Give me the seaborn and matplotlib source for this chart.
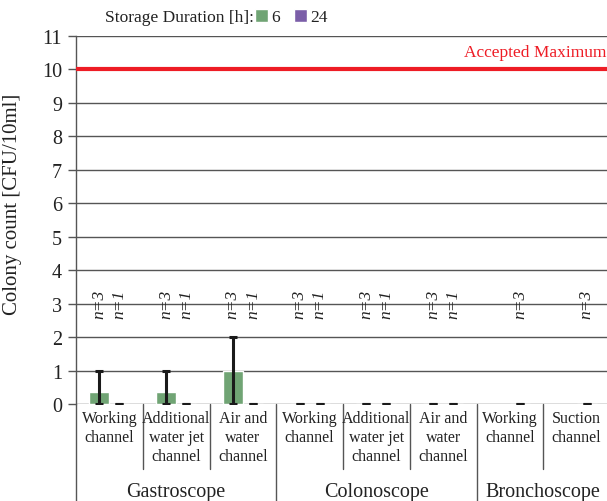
import numpy as np
import pandas as pd
import matplotlib
matplotlib.use("Agg")
import matplotlib.pyplot as plt
import seaborn as sns

# ── Data ──────────────────────────────────────────────────────────────────────
channels = [
    "Working\nchannel", "Additional\nwater jet\nchannel", "Air and\nwater\nchannel",
    "Working\nchannel", "Additional\nwater jet\nchannel", "Air and\nwater\nchannel",
    "Working\nchannel", "Suction\nchannel",
]
scopes = ["Gastroscope", "Colonoscope", "Bronchoscope"]
scope_sizes = [3, 3, 2]

durations = ["6", "24"]
mean_6h = [0.35, 0.35, 1.0, 0.0, 0.0, 0.0, np.nan, np.nan]
mean_24h = [0.0, 0.0, 0.0, 0.0, 0.0, 0.0, 0.0, 0.0]
err_lo_6h = [0.35, 0.35, 1.0, 0.0, 0.0, 0.0, np.nan, np.nan]
err_hi_6h = [0.65, 0.65, 1.0, 0.0, 0.0, 0.0, np.nan, np.nan]
n_6h = ["3", "3", "3", "3", "3", "3", None, None]
n_24h = ["1", "1", "1", "1", "1", "1", "3", "3"]

accepted_max = 10
colors = ["#70a474", "#7b5ea8"]

# ── Style ─────────────────────────────────────────────────────────────────────
sns.set_theme(style="white")
plt.rcParams["font.family"] = ["Liberation Serif", "DejaVu Serif"]
plt.rcParams["text.color"] = "#222222"

df = pd.DataFrame({
    "cat": list(range(8)) * 2,
    "value": mean_6h + mean_24h,
    "dur": [durations[0]] * 8 + [durations[1]] * 8,
})

fig = plt.figure(figsize=(6.07, 5.02), dpi=100)
W, H = 607, 502
ax = fig.add_axes([76 / W, (H - 405) / H, (610 - 76) / W, (405 - 37) / H])

sns.barplot(data=df, x="cat", y="value", hue="dur", hue_order=durations,
            palette=colors, width=0.6, errorbar=None, ax=ax, saturation=1,
            order=list(range(8)))

off = 0.15
x = np.arange(8)
# error bars
ax.errorbar(x - off, mean_6h, yerr=[err_lo_6h, err_hi_6h], fmt="none",
            ecolor="#1a1a1a", elinewidth=2.2, capsize=3, capthick=2.2, zorder=5)
ax.errorbar(x + off, mean_24h, yerr=np.zeros(8), fmt="none",
            ecolor="#1a1a1a", elinewidth=2.2, capsize=3, capthick=2.2, zorder=5)

# n labels
for i in range(8):
    if n_6h[i]:
        ax.text(i - off, 3, "n=" + n_6h[i], rotation=90, ha="center",
                va="center", fontsize=12.5, fontstyle="italic", zorder=6)
    if n_24h[i]:
        ax.text(i + off, 3, "n=" + n_24h[i], rotation=90, ha="center",
                va="center", fontsize=12.5, fontstyle="italic", zorder=6)

# accepted maximum
ax.axhline(accepted_max, color="#ee1c25", lw=3, zorder=4)
fig.text(606 / W, (H - 53) / H, "Accepted Maximum", color="#ee1c25",
         ha="right", va="center", fontsize=12.5)

ax.set_xlim(-0.5, 7.5)
ax.set_ylim(0, 11)
ax.set_yticks(range(0, 12))
ax.yaxis.grid(True, color="#555555", lw=1)
ax.set_axisbelow(True)
ax.tick_params(axis="y", left=True, length=6, width=1, color="#555555",
               labelsize=14.5, pad=4, labelcolor="#222222")
ax.set_xticks([])
ax.set_xlabel("")
ax.set_ylabel("Colony count [CFU/10ml]", fontsize=15, color="#222222")
ax.yaxis.set_label_coords(-0.101, 0.546)
for s in ["top", "right", "bottom"]:
    ax.spines[s].set_visible(False)
ax.spines["left"].set_color("#555555")
ax.spines["left"].set_linewidth(1)

# category labels and separators below the axis
trans = ax.get_xaxis_transform()
for i, lab in enumerate(channels):
    ax.text(i, -0.017, lab, transform=trans, ha="center", va="top",
            fontsize=11.5, linespacing=1.22, clip_on=False)
ax.plot([-0.5, -0.5], [0, -(502 - 405) / 368], transform=trans,
        color="#555555", lw=1, clip_on=False)
bounds = np.cumsum(scope_sizes)[:-1] - 0.5
for b in np.arange(0.5, 7.5, 1.0):
    long = b in bounds
    y_end = -(502 - 405) / 368 if long else -(470 - 405) / 368
    ax.plot([b, b], [0, y_end], transform=trans, color="#555555", lw=1,
            clip_on=False)
start = 0
for name, size in zip(scopes, scope_sizes):
    ax.text(start + (size - 1) / 2, -(493 - 405) / 368, name, transform=trans,
            ha="center", va="center", fontsize=14.5, clip_on=False)
    start += size

# legend
handles, labels = ax.get_legend_handles_labels()
ax.get_legend().remove()
fig.text(105 / W, (H - 18) / H, "Storage Duration [h]:", ha="left",
         va="center", fontsize=12.5)
fig.legend(handles, labels, loc="center left",
           bbox_to_anchor=(255 / W, (H - 18) / H), ncol=2, frameon=False,
           fontsize=12.5, handlelength=0.75, handleheight=0.75,
           handletextpad=0.2, columnspacing=0.8, borderpad=0,
           borderaxespad=0)

fig.savefig("out.png", dpi=100)
plt.close(fig)
